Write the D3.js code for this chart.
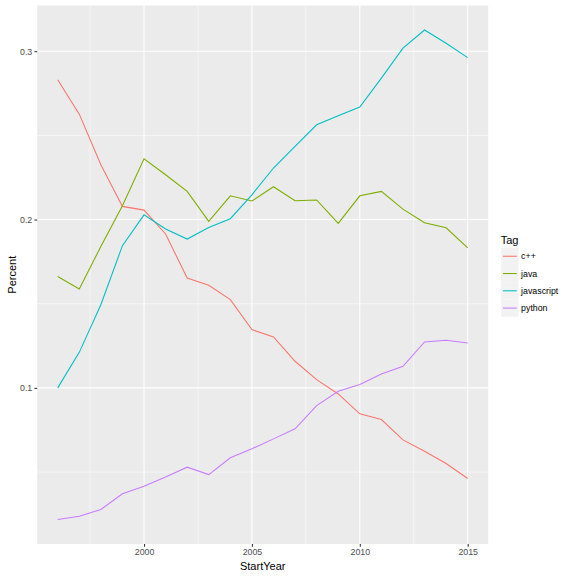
<!DOCTYPE html>
<html>
<head>
<meta charset="utf-8">
<script src="https://d3js.org/d3.v7.min.js"></script>
<style>
  body { margin: 0; background: #fff; }
  text { font-family: "Liberation Sans", Arial, sans-serif; }
</style>
</head>
<body>
<script>
// data
var years = d3.range(1996, 2016);
var tags = ["c++", "java", "javascript", "python"];
var cpp = [0.283, 0.2626, 0.2325, 0.2078, 0.2056, 0.1914, 0.1653, 0.1609, 0.1524, 0.1346,
           0.1303, 0.1158, 0.1049, 0.0964, 0.0846, 0.0812, 0.0691, 0.0624, 0.0551, 0.0462];
var java = [0.1662, 0.1587, 0.184, 0.2082, 0.2361, 0.2266, 0.2167, 0.1989, 0.2141, 0.211,
            0.2195, 0.2112, 0.2116, 0.1977, 0.2141, 0.2167, 0.2062, 0.1981, 0.1951, 0.1831];
var javascript = [0.100, 0.1211, 0.1494, 0.1845, 0.2028, 0.1944, 0.1884, 0.1953, 0.2005, 0.2147,
                  0.2306, 0.2434, 0.2563, 0.2616, 0.2668, 0.2840, 0.3018, 0.3126, 0.3047, 0.2962];
var python = [0.0218, 0.0238, 0.0278, 0.0371, 0.0416, 0.0470, 0.0529, 0.0485, 0.0585, 0.0638,
              0.0697, 0.0757, 0.0895, 0.0980, 0.1020, 0.1083, 0.1128, 0.1273, 0.1283, 0.1267];
var xTicks = [2000, 2005, 2010, 2015];
var yTicks = [0.1, 0.2, 0.3];

var series = [cpp, java, javascript, python];
var colors = ["#F8766D", "#7CAE00", "#00BFC4", "#C77CFF"];

var width = 576,
    height = 576;
var panel = {left: 37.2, right: 488.2, top: 5.5, bottom: 544};

var svg = d3.select("body")
    .append("svg")
    .attr("width", width)
    .attr("height", height);

//ggplot style 5% expansion
function expand(ext){
    var pad = (ext[1] - ext[0]) * 0.05;
    return [ext[0] - pad, ext[1] + pad];
}

var allVals = [].concat(cpp, java, javascript, python);

var x = d3.scaleLinear()
    .domain(expand(d3.extent(years)))
    .range([panel.left, panel.right]);

var y = d3.scaleLinear()
    .domain(expand(d3.extent(allVals)))
    .range([panel.bottom, panel.top]);

//panel background
svg.append("rect")
    .attr("x", panel.left)
    .attr("y", panel.top)
    .attr("width", panel.right - panel.left)
    .attr("height", panel.bottom - panel.top)
    .attr("fill", "#EBEBEB");

//minor grid
var xMinor = [1997.5, 2002.5, 2007.5, 2012.5],
    yMinor = [0.05, 0.15, 0.25];
var grid = svg.append("g");
grid.selectAll(".xminor").data(xMinor).enter().append("line")
    .attr("x1", d => x(d)).attr("x2", d => x(d))
    .attr("y1", panel.top).attr("y2", panel.bottom)
    .attr("stroke", "#fff").attr("stroke-width", 0.53);
grid.selectAll(".yminor").data(yMinor).enter().append("line")
    .attr("y1", d => y(d)).attr("y2", d => y(d))
    .attr("x1", panel.left).attr("x2", panel.right)
    .attr("stroke", "#fff").attr("stroke-width", 0.53);
//major grid
grid.selectAll(".xmajor").data(xTicks).enter().append("line")
    .attr("x1", d => x(d)).attr("x2", d => x(d))
    .attr("y1", panel.top).attr("y2", panel.bottom)
    .attr("stroke", "#fff").attr("stroke-width", 1.07);
grid.selectAll(".ymajor").data(yTicks).enter().append("line")
    .attr("y1", d => y(d)).attr("y2", d => y(d))
    .attr("x1", panel.left).attr("x2", panel.right)
    .attr("stroke", "#fff").attr("stroke-width", 1.07);

//lines
var line = d3.line()
    .x((d, i) => x(years[i]))
    .y(d => y(d));

svg.selectAll(".series")
    .data(series)
    .enter()
    .append("path")
    .attr("class", "series")
    .attr("d", line)
    .attr("fill", "none")
    .attr("stroke", (d, i) => colors[i])
    .attr("stroke-width", 1.07);

//axes
var xAxis = d3.axisBottom(x)
    .tickValues(xTicks)
    .tickFormat(d3.format("d"))
    .tickSize(2.75)
    .tickPadding(2.2);
var yAxis = d3.axisLeft(y)
    .tickValues(yTicks)
    .tickFormat(d3.format(".1f"))
    .tickSize(2.75)
    .tickPadding(2.2);

var gx = svg.append("g")
    .attr("transform", "translate(0," + panel.bottom + ")")
    .call(xAxis);
var gy = svg.append("g")
    .attr("transform", "translate(" + panel.left + ",0)")
    .call(yAxis);

[gx, gy].forEach(function(g){
    g.select(".domain").remove();
    g.selectAll(".tick line").attr("stroke", "#333333").attr("stroke-width", 1.07);
    g.selectAll(".tick text")
        .attr("fill", "#4D4D4D")
        .style("font-size", "8.8px")
        .style("font-family", "Liberation Sans, Arial, sans-serif");
});

//axis titles
svg.append("text")
    .attr("x", (panel.left + panel.right) / 2)
    .attr("y", 570)
    .attr("text-anchor", "middle")
    .style("font-size", "11px")
    .attr("fill", "#000")
    .text("StartYear");

svg.append("text")
    .attr("transform", "translate(16," + ((panel.top + panel.bottom) / 2) + ") rotate(-90)")
    .attr("text-anchor", "middle")
    .style("font-size", "11px")
    .attr("fill", "#000")
    .text("Percent");

//legend
var legend = svg.append("g")
    .attr("transform", "translate(499.2,0)");

legend.append("text")
    .attr("x", 1.5)
    .attr("y", 244)
    .style("font-size", "11px")
    .attr("fill", "#000")
    .text("Tag");

var keys = legend.selectAll(".key")
    .data(tags)
    .enter()
    .append("g")
    .attr("class", "key")
    .attr("transform", (d, i) => "translate(2," + (247.6 + i * 17.28) + ")");

keys.append("rect")
    .attr("width", 17.28)
    .attr("height", 17.28)
    .attr("fill", "#F2F2F2");

keys.append("line")
    .attr("x1", 1.7).attr("x2", 15.6)
    .attr("y1", 8.64).attr("y2", 8.64)
    .attr("stroke", (d, i) => colors[i])
    .attr("stroke-width", 1.07);

keys.append("text")
    .attr("x", 19.9)
    .attr("y", 8.64)
    .attr("dy", "0.35em")
    .style("font-size", "8.8px")
    .attr("fill", "#000")
    .text(d => d);
</script>
</body>
</html>
